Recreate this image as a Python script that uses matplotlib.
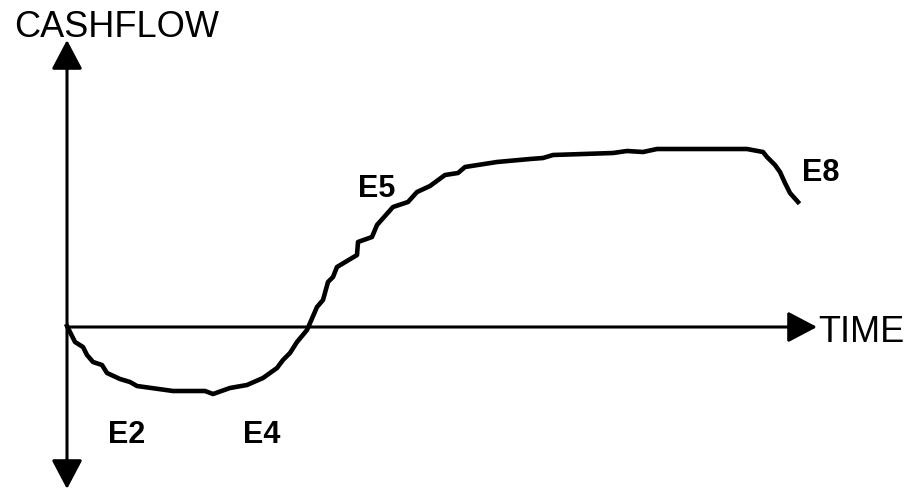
import matplotlib.pyplot as plt

plt.rcParams['font.family'] = ['Liberation Sans', 'DejaVu Sans']

# curve (time from the y axis, cashflow above the time axis)
time = [0, 8, 16, 20, 26, 35, 40, 53, 63, 70, 106, 138, 146, 163, 180, 196,
        210, 216, 223, 230, 240, 250, 256, 261, 266, 270, 290, 291, 305, 310,
        326, 341, 350, 363, 378, 391, 398, 430, 463, 476, 486, 546, 560, 576,
        590, 680, 696, 700, 708, 713, 718, 723, 731]
cashflow = [0, -16, -21, -29, -36, -39, -47, -53, -56, -60, -65, -65, -68, -62,
            -59, -52, -42, -34, -27, -16, -4, 19, 26, 44, 49, 59, 71, 84, 89,
            101, 119, 124, 134, 140, 151, 153, 159, 164, 167, 168, 171, 173,
            175, 174, 177, 177, 174, 169, 161, 154, 143, 133, 124]

# event labels: (text, time, cashflow of baseline)
event_names = ["E2", "E4", "E5", "E8"]
event_time = [41, 176, 291, 735]
event_cash = [-117, -117, 129, 145]

fig = plt.figure(figsize=(9.08, 4.90), dpi=100)
ax = fig.add_axes([0, 0, 1, 1])
ax.set_xlim(-67, 841)
ax.set_ylim(-164, 326)
ax.axis("off")

arrow = dict(arrowstyle="-|>,head_length=1.8,head_width=0.95", mutation_scale=10,
             lw=2.2, color="black", shrinkA=0, shrinkB=0)
two_way = dict(arrow, arrowstyle="<|-|>,head_length=1.8,head_width=0.95")
ax.annotate("", xy=(0, 286), xytext=(0, -163), arrowprops=two_way)
ax.annotate("", xy=(750, -1), xytext=(0, -1), arrowprops=arrow)

ax.plot(time, cashflow, color="black", lw=3.3, solid_joinstyle="round")

for name, t, c in zip(event_names, event_time, event_cash):
    ax.text(t, c, name, fontsize=22, fontweight="bold", va="baseline", ha="left")

ax.text(751, -16, "TIME", fontsize=26, va="baseline", ha="left")
ax.text(-53, 289, "CASHFLOW", fontsize=26, va="baseline", ha="left")

plt.savefig("out.png", dpi=100)
